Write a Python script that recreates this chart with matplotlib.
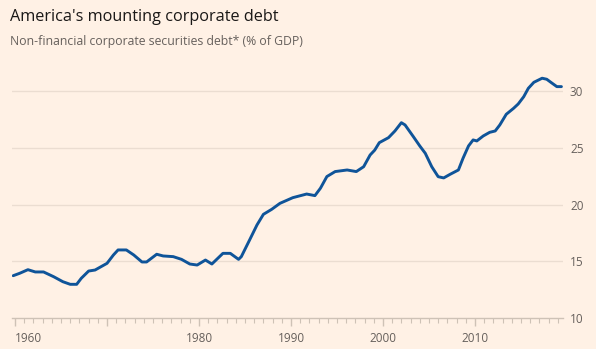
import matplotlib
matplotlib.use("Agg")
import matplotlib.pyplot as plt
from matplotlib.ticker import MultipleLocator, FixedLocator

years = [1959.8, 1960.5, 1961.4, 1962.2, 1963.1, 1964.2, 1965.2, 1966.0, 1966.7, 1967.2,
         1968.0, 1968.7, 1970.0, 1970.7, 1971.2, 1972.1, 1972.9, 1973.8, 1974.3, 1975.4,
         1976.1, 1977.2, 1978.1, 1979.0, 1979.8, 1980.7, 1981.4, 1982.6, 1983.4, 1984.3,
         1984.6, 1985.5, 1986.3, 1987.0, 1987.9, 1988.8, 1990.2, 1991.7, 1992.6, 1993.2,
         1993.9, 1994.8, 1996.1, 1997.1, 1997.9, 1998.6, 1999.1, 1999.6, 2000.6, 2001.3,
         2002.0, 2002.4, 2003.3, 2004.0, 2004.6, 2005.3, 2006.0, 2006.6, 2007.3, 2008.2,
         2008.7, 2009.3, 2009.8, 2010.2, 2010.9, 2011.6, 2012.2, 2012.7, 2013.4, 2014.2,
         2014.7, 2015.3, 2015.8, 2016.4, 2017.3, 2017.8, 2018.3, 2018.9, 2019.4]
debt = [13.73, 13.94, 14.26, 14.06, 14.06, 13.64, 13.20, 12.97, 12.97, 13.50,
        14.14, 14.23, 14.82, 15.56, 16.00, 16.00, 15.56, 14.94, 14.94, 15.62,
        15.47, 15.41, 15.17, 14.76, 14.67, 15.11, 14.76, 15.70, 15.70, 15.17,
        15.41, 16.88, 18.20, 19.14, 19.58, 20.11, 20.61, 20.93, 20.79, 21.44,
        22.47, 22.91, 23.05, 22.91, 23.34, 24.37, 24.80, 25.46, 25.90, 26.49,
        27.22, 27.02, 25.99, 25.17, 24.52, 23.34, 22.46, 22.35, 22.67, 23.05,
        24.08, 25.17, 25.70, 25.61, 26.05, 26.37, 26.49, 27.02, 27.96, 28.49,
        28.87, 29.51, 30.25, 30.78, 31.14, 31.05, 30.75, 30.40, 30.40]

x_labels = [1960, 1980, 1990, 2000, 2010]
y_ticks = [10, 15, 20, 25, 30]
title = "America's mounting corporate debt"
subtitle = "Non-financial corporate securities debt* (% of GDP)"

BG = "#FFF1E5"
LINE = "#0F5499"
GRID = "#EBDDD1"
BASE = "#CEC2B6"
TXT = "#66605C"

plt.rcParams['font.family'] = ['Open Sans', 'DejaVu Sans']

W, H = 596, 349
fig = plt.figure(figsize=(W / 100, H / 100), dpi=100, facecolor=BG)
ax = fig.add_axes([12 / W, (H - 318) / H, 551 / W, (318 - 62.8) / H])
ax.set_facecolor(BG)

ax.set_xlim(1959.67, 2019.57)
ax.set_ylim(10, 32.5)

for v in y_ticks[1:]:
    ax.axhline(v, color=GRID, lw=1.0, zorder=1)

ax.plot(years, debt, color=LINE, lw=2.1, solid_joinstyle='round',
        solid_capstyle='round', zorder=3)

for s in ['top', 'left', 'right']:
    ax.spines[s].set_visible(False)
ax.spines['bottom'].set_color(BASE)
ax.spines['bottom'].set_linewidth(1.0)

ax.xaxis.set_major_locator(FixedLocator(list(range(1960, 2020, 10))))
ax.xaxis.set_minor_locator(MultipleLocator(1))
ax.tick_params(axis='x', which='major', length=6, width=1, color=BASE,
               labelsize=8.5, labelcolor=TXT, pad=4)
ax.tick_params(axis='x', which='minor', length=3.5, width=0.8, color=BASE)
ax.set_xticks(list(range(1960, 2020, 10)))
labs = [str(y) if y in x_labels else "" for y in range(1960, 2020, 10)]
ax.set_xticklabels(labs)
ax.get_xticklabels()[0].set_horizontalalignment('left')

ax.yaxis.tick_right()
ax.set_yticks(y_ticks)
ax.set_yticklabels([str(v) for v in y_ticks])
ax.tick_params(axis='y', length=0, labelsize=8.5, labelcolor=TXT, pad=5)

fig.text(10 / W, 1 - 17 / H, title, fontsize=11.7, color="#1A1817", va='center', ha='left')
fig.text(10 / W, 1 - 42 / H, subtitle, fontsize=8.8, color=TXT, va='center', ha='left')

fig.savefig("out.png", dpi=100, facecolor=BG)
